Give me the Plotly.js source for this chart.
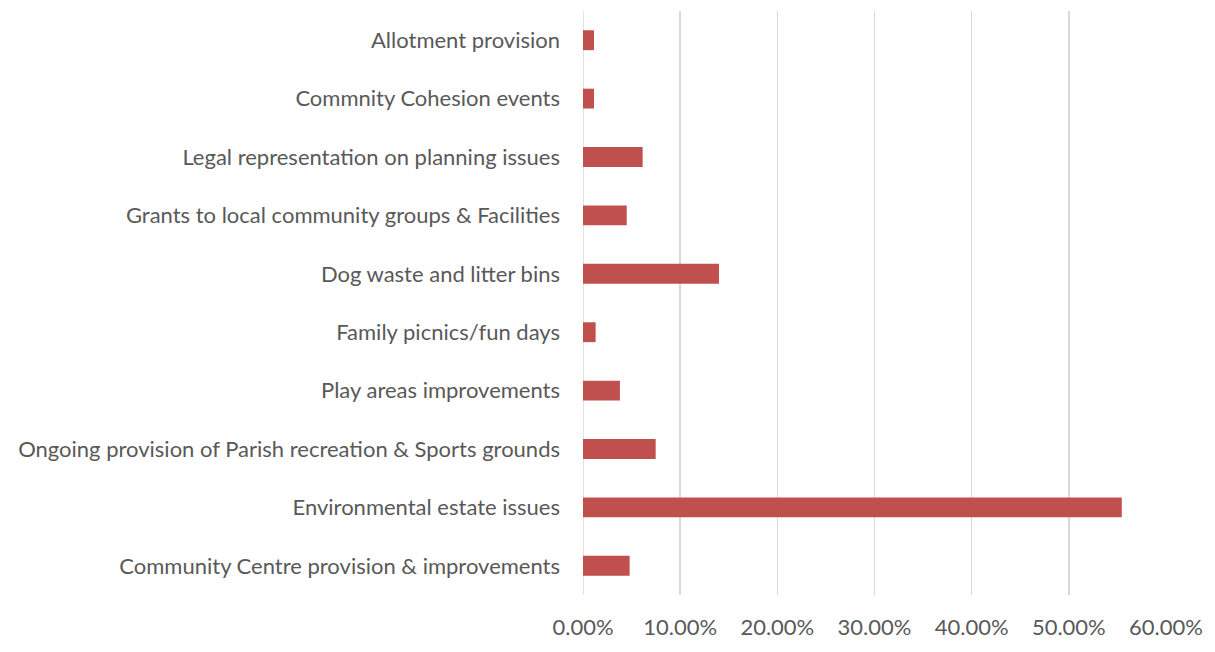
<!DOCTYPE html>
<html>
<head>
<meta charset="utf-8">
<script src="https://cdn.plot.ly/plotly-3.0.1.min.js"></script>
<style>html,body{margin:0;padding:0;background:#fff;}#chart{width:1215px;height:652px;}</style>
</head>
<body>
<div id="chart"></div>
<script>
const categories = [
  "Community Centre provision & improvements",
  "Environmental estate issues",
  "Ongoing provision of Parish recreation & Sports grounds",
  "Play areas improvements",
  "Family picnics/fun days",
  "Dog waste and litter bins",
  "Grants to local community groups & Facilities",
  "Legal representation on planning issues",
  "Commnity Cohesion events",
  "Allotment provision"
];
const values = [0.048, 0.5545, 0.0748, 0.038, 0.013, 0.140, 0.045, 0.0614, 0.0113, 0.0113];
const tickValues = [0, 0.1, 0.2, 0.3, 0.4, 0.5, 0.6];
const tickLabels = ["0.00%", "10.00%", "20.00%", "30.00%", "40.00%", "50.00%", "60.00%"];

const trace = {
  type: "bar",
  orientation: "h",
  x: values,
  y: categories,
  marker: {color: "#c0504d", line: {color: "#c0504d", width: 0}},
  hoverinfo: "x+y"
};

const layout = {
  width: 1215, height: 652,
  margin: {l: 583, r: 49, t: 11, b: 57, pad: 0},
  paper_bgcolor: "#ffffff",
  plot_bgcolor: "#ffffff",
  bargap: 0.66,
  showlegend: false,
  font: {family: "Lato, sans-serif", size: 22, color: "#595959"},
  xaxis: {
    range: [0, 0.6],
    tickvals: tickValues,
    ticktext: tickLabels,
    showgrid: true,
    gridcolor: "#d9d9d9",
    gridwidth: 1.5,
    zeroline: false,
    showline: false,
    ticks: "",
    ticklen: 0,
    ticklabelstandoff: 17,
    tickfont: {size: 22, color: "#595959"},
    fixedrange: true
  },
  yaxis: {
    categoryorder: "array",
    categoryarray: categories,
    showgrid: false,
    zeroline: false,
    showline: false,
    ticks: "",
    ticklabelstandoff: 22,
    tickfont: {size: 22, color: "#595959"},
    fixedrange: true
  },
  shapes: [{
    type: "line", xref: "x", yref: "paper",
    x0: 0, x1: 0, y0: 0, y1: 1,
    line: {color: "#d9d9d9", width: 1.5},
    layer: "below"
  }]
};

Plotly.newPlot("chart", [trace], layout, {displayModeBar: false, staticPlot: true});
</script>
</body>
</html>
